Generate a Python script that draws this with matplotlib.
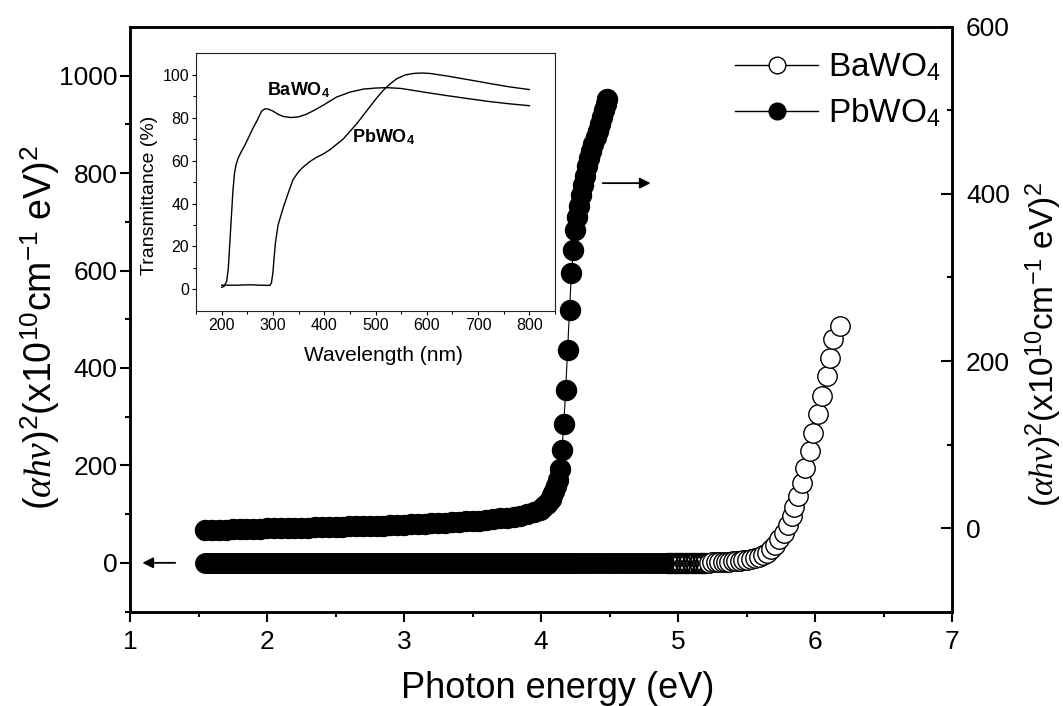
import numpy as np
import matplotlib
matplotlib.use('Agg')
import matplotlib.pyplot as plt
from matplotlib.lines import Line2D
from matplotlib.ticker import FixedLocator

plt.rcParams['font.family'] = ['Liberation Sans', 'DejaVu Sans']
plt.rcParams['mathtext.fontset'] = 'custom'
plt.rcParams['mathtext.rm'] = 'Liberation Sans'
plt.rcParams['mathtext.it'] = 'Liberation Serif:italic'
plt.rcParams['mathtext.bf'] = 'Liberation Sans:bold'

# ---------------- main data: (alpha h nu)^2 vs photon energy ----------------
# BaWO4 (left axis) - flat baseline region, read value 0
# low-energy part: points so dense that the open circles merge into a solid band
BA_DENSE_E = [
    1.55, 1.565, 1.58, 1.595, 1.61, 1.625, 1.64, 1.655, 1.67, 1.685,
    1.7, 1.715, 1.73, 1.745, 1.76, 1.775, 1.79, 1.805, 1.82, 1.835,
    1.85, 1.865, 1.88, 1.895, 1.91, 1.925, 1.94, 1.955, 1.97, 1.985,
    2.0, 2.015, 2.03, 2.045, 2.06, 2.075, 2.09, 2.105, 2.12, 2.135,
    2.15, 2.165, 2.18, 2.195, 2.21, 2.225, 2.24, 2.255, 2.27, 2.285,
    2.3, 2.315, 2.33, 2.345, 2.36, 2.375, 2.39, 2.405, 2.42, 2.435,
    2.45, 2.465, 2.48, 2.495, 2.51, 2.525, 2.54, 2.555, 2.57, 2.585,
    2.6, 2.615, 2.63, 2.645, 2.66, 2.675, 2.69, 2.705, 2.72, 2.735,
    2.75, 2.765, 2.78, 2.795, 2.81, 2.825, 2.84, 2.855, 2.87, 2.885,
    2.9, 2.915, 2.93, 2.945, 2.96, 2.975, 2.99, 3.005, 3.02, 3.035,
    3.05, 3.065, 3.08, 3.095, 3.11, 3.125, 3.14, 3.155, 3.17, 3.185,
    3.2, 3.215, 3.23, 3.245, 3.26, 3.275, 3.29, 3.305, 3.32, 3.335,
    3.35, 3.365, 3.38, 3.395, 3.41, 3.425, 3.44, 3.455, 3.47, 3.485,
    3.5, 3.515, 3.53, 3.545, 3.56, 3.575, 3.59, 3.605, 3.62, 3.635,
    3.65, 3.665, 3.68, 3.695, 3.71, 3.725, 3.74, 3.755, 3.77, 3.785,
    3.8, 3.815, 3.83, 3.845, 3.86, 3.875, 3.89, 3.905, 3.92, 3.935,
    3.95, 3.965, 3.98, 3.995, 4.01, 4.025, 4.04, 4.055, 4.07, 4.085,
    4.1, 4.115, 4.13, 4.145, 4.16, 4.175, 4.19, 4.205, 4.22, 4.235,
    4.25, 4.265, 4.28, 4.3, 4.325, 4.35, 4.375, 4.4, 4.425, 4.45,
    4.475, 4.5, 4.525, 4.55, 4.575, 4.6, 4.625, 4.65, 4.675, 4.7,
    4.725, 4.75, 4.775, 4.8, 4.825, 4.85, 4.875, 4.9,
]
BA_FLAT_E = [
    4.925, 4.95, 4.975, 5.0, 5.025, 5.05, 5.075, 5.1, 5.125, 5.15,
    5.175, 5.2,
]
BA_BASELINE = 0.0

# BaWO4 absorption edge
BA_RISE_E = [5.225, 5.25, 5.275, 5.3, 5.325, 5.35, 5.375, 5.4, 5.425, 5.45,
             5.475, 5.5, 5.53, 5.56, 5.59, 5.62, 5.65, 5.68, 5.71, 5.74,
             5.77, 5.8, 5.83, 5.85, 5.876, 5.905, 5.927, 5.964, 5.985, 6.022,
             6.05, 6.088, 6.11, 6.13, 6.18]
BA_RISE_Y = [0.5, 0.8, 1.0, 1.3, 1.6, 2.0, 2.4, 2.9, 3.5, 4.2,
             5, 6, 7.5, 9.5, 12, 16, 21, 28, 37, 48,
             61, 77, 96, 115, 138, 164, 195, 230, 267, 306,
             343, 384, 421, 460, 487]

# PbWO4 (right axis)
PB_BASE_E = [1.55, 1.6, 1.65, 1.7, 1.75, 1.8, 1.85, 1.9, 1.95, 2.0,
             2.05, 2.1, 2.15, 2.2, 2.25, 2.3, 2.35, 2.4, 2.45, 2.5,
             2.55, 2.6, 2.65, 2.7, 2.75, 2.8, 2.85, 2.9, 2.95, 3.0,
             3.05, 3.1, 3.15, 3.2, 3.25, 3.3, 3.35, 3.4, 3.45, 3.5,
             3.55, 3.6, 3.65, 3.7, 3.75, 3.8, 3.85, 3.9, 3.95]
PB_BASE_Y = [-2, -2, -2, -2, -1.5, -1.5, -1, -1, -1, -0.5,
             -0.5, 0, 0, 0, 0.5, 0.5, 1, 1, 1, 1.5,
             1.5, 2, 2, 2.5, 2.5, 3, 3, 3.5, 4, 4,
             4.5, 5, 5, 5.5, 6, 6.5, 7, 7.5, 8, 8.5,
             9, 10, 10.5, 11.5, 12.5, 13.5, 15, 17, 19]
PB_RISE_E = [3.99, 4.003, 4.016, 4.03, 4.043, 4.056, 4.07, 4.083, 4.097, 4.111,
             4.125, 4.139, 4.153, 4.166, 4.18, 4.194, 4.208, 4.222, 4.236, 4.25,
             4.263, 4.278, 4.293, 4.308, 4.323, 4.338, 4.353, 4.368, 4.383, 4.398,
             4.413, 4.428, 4.443, 4.458, 4.473, 4.485]
PB_RISE_Y = [21, 23, 25, 27, 29, 32, 35, 39, 44, 50,
             58, 71, 93, 125, 165, 213, 261, 305, 333, 357,
             372, 386, 399, 411, 422, 433, 443, 452, 460, 468,
             476, 484, 492, 500, 508, 514]

# ---------------- inset data: transmittance vs wavelength ----------------
BA_T_NM = [200, 205, 210, 213, 216, 219, 222, 225, 228, 232, 238, 245, 253, 261,
           270, 278, 284, 290, 300, 310, 320, 335, 350, 365, 380, 400, 424, 450,
           476, 500, 522, 550, 574, 600, 639, 680, 723, 760, 800]
BA_T = [1.0, 1.5, 4, 10, 22, 34, 46, 54, 58, 61, 64, 67, 71, 75,
        79, 83, 84, 84, 83, 81.5, 80.5, 80, 80.3, 81.5, 83.3, 86, 89.5, 91.8,
        93.2, 93.7, 93.9, 93.5, 92.6, 91.6, 90.2, 88.8, 87.4, 86.4, 85.5]
PB_T_NM = [200, 210, 230, 255, 275, 294, 297, 300, 302, 305, 310, 315, 320, 330,
           339, 349, 359, 372, 385, 398, 411, 424, 437, 450, 463, 476, 489, 502,
           515, 528, 541, 558, 574, 590, 606, 640, 671, 700, 723, 760, 800]
PB_T = [2, 2, 2, 2.2, 2, 1.9, 3, 8, 14, 22, 30, 34, 38, 45,
        51, 54.5, 57, 59.5, 61.5, 63, 65, 67.5, 70, 73.5, 77, 81, 85, 89,
        92.6, 95.5, 98, 99.8, 100.5, 100.7, 100.5, 99.3, 98, 96.8, 95.8, 94.3, 93]

X_TICKS = [1, 2, 3, 4, 5, 6, 7]
Y_LEFT_TICKS = [0, 200, 400, 600, 800, 1000]
Y_RIGHT_TICKS = [0, 200, 400, 600]
INSET_X_TICKS = [200, 300, 400, 500, 600, 700, 800]
INSET_Y_TICKS = [0, 20, 40, 60, 80, 100]

YLABEL = r'$(\alpha h\nu)^{2}$(x10$^{10}$cm$^{-1}$ eV)$^{2}$'

# ---------------- figure ----------------
fig = plt.figure(figsize=(10.63, 7.06), dpi=100)
ax = fig.add_axes([0.1223, 0.1338, 0.7733, 0.8280])
ax2 = ax.twinx()

ms = 14
ax.plot(BA_DENSE_E, np.full(len(BA_DENSE_E), BA_BASELINE), '-', color='k', lw=0.8,
        marker='o', ms=ms, mfc='k', mec='k', mew=1.0, zorder=3)
ax.plot(BA_FLAT_E, np.full(len(BA_FLAT_E), BA_BASELINE), '-', color='k', lw=0.8,
        marker='o', ms=ms, mfc='none', mec='k', mew=1.4, zorder=3)
ax.plot(BA_RISE_E, BA_RISE_Y, '-', color='k', lw=0.8,
        marker='o', ms=ms, mfc='white', mec='k', mew=1.0, zorder=3)
ax2.plot(PB_BASE_E + PB_RISE_E, PB_BASE_Y + PB_RISE_Y, '-', color='k', lw=0.8,
         marker='o', ms=14.4, mfc='k', mec='k', mew=1.0, zorder=3)

ax.set_xlim(1, 7)
ax.set_ylim(-100, 1100)
ax2.set_ylim(-100, 600)

ax.set_xticks(X_TICKS)
ax.xaxis.set_minor_locator(FixedLocator([1.5, 2.5, 3.5, 4.5, 5.5, 6.5]))
ax.set_yticks(Y_LEFT_TICKS)
ax.yaxis.set_minor_locator(FixedLocator([-100, 100, 300, 500, 700, 900]))
ax2.set_yticks(Y_RIGHT_TICKS)
ax2.yaxis.set_minor_locator(FixedLocator([100, 300, 500]))

for a in (ax, ax2):
    for s in a.spines.values():
        s.set_linewidth(1.8)
ax.tick_params(axis='both', which='major', direction='out', length=7, width=1.5,
               labelsize=19, pad=3)
ax.tick_params(axis='x', which='major', pad=6)
ax.tick_params(axis='both', which='minor', direction='out', length=3.6, width=1.5)
ax.tick_params(axis='y', which='major', pad=2)
ax2.tick_params(axis='y', which='major', direction='in', length=8, width=1.5,
                labelsize=19, pad=10)
ax2.tick_params(axis='y', which='minor', direction='in', length=3.6, width=1.5)

ax.set_xlabel('Photon energy (eV)', fontsize=26)
ax.xaxis.set_label_coords(0.52, -0.101)
ax.set_ylabel(YLABEL, fontsize=27)
ax.yaxis.set_label_coords(-0.0827, 0.485)
ax2.set_ylabel(YLABEL, fontsize=24)
ax2.yaxis.set_label_coords(1.087, 0.457)

# direction arrows
ax.annotate('', xy=(1.09, 0), xytext=(1.33, 0),
            arrowprops=dict(arrowstyle='-|>', color='k', lw=1.3, mutation_scale=16,
                            shrinkA=0, shrinkB=0))
ax2.annotate('', xy=(4.80, 413), xytext=(4.45, 413),
             arrowprops=dict(arrowstyle='-|>', color='k', lw=1.3, mutation_scale=16,
                             shrinkA=0, shrinkB=0))

# legend
h_ba = Line2D([], [], color='k', lw=1.0, marker='o', ms=12, mfc='white', mec='k', mew=1.0)
h_pb = Line2D([], [], color='k', lw=1.0, marker='o', ms=12, mfc='k', mec='k', mew=1.0)
ax2.legend([h_ba, h_pb], [r'BaWO$_4$', r'PbWO$_4$'], loc='center left',
           bbox_to_anchor=(0.6914, 0.872), bbox_transform=fig.transFigure,
           frameon=False, fontsize=24, handlelength=2.5, handletextpad=0.3,
           labelspacing=0.4, borderpad=0, borderaxespad=0)

# ---------------- inset ----------------
axins = fig.add_axes([0.1844, 0.5595, 0.3377, 0.3654])
axins.set_zorder(10)
axins.plot(BA_T_NM, BA_T, color='k', lw=1.0)
axins.plot(PB_T_NM, PB_T, color='k', lw=1.0)
axins.set_xlim(150, 850)
axins.set_ylim(-10, 110)
axins.set_xticks(INSET_X_TICKS)
axins.xaxis.set_minor_locator(FixedLocator([150, 250, 350, 450, 550, 650, 750, 850]))
axins.set_yticks(INSET_Y_TICKS)
axins.yaxis.set_minor_locator(FixedLocator([10, 30, 50, 70, 90]))
for s in axins.spines.values():
    s.set_linewidth(0.8)
    s.set_color('#222222')
axins.tick_params(axis='both', which='major', direction='out', length=3, width=0.8,
                  labelsize=11.5, pad=2)
axins.tick_params(axis='both', which='minor', direction='out', length=2, width=0.8)
axins.set_xlabel('Wavelength (nm)', fontsize=15)
axins.xaxis.set_label_coords(0.521, -0.135)
axins.set_ylabel('Transmittance (%)', fontsize=14)
axins.yaxis.set_label_coords(-0.105, 0.45)
axins.text(288, 92.5, r'$\mathbf{BaWO}_\mathbf{4}$', fontsize=13, ha='left', va='center')
axins.text(454, 71, r'$\mathbf{PbWO}_\mathbf{4}$', fontsize=13, ha='left', va='center')

fig.savefig('out.png', dpi=100)
